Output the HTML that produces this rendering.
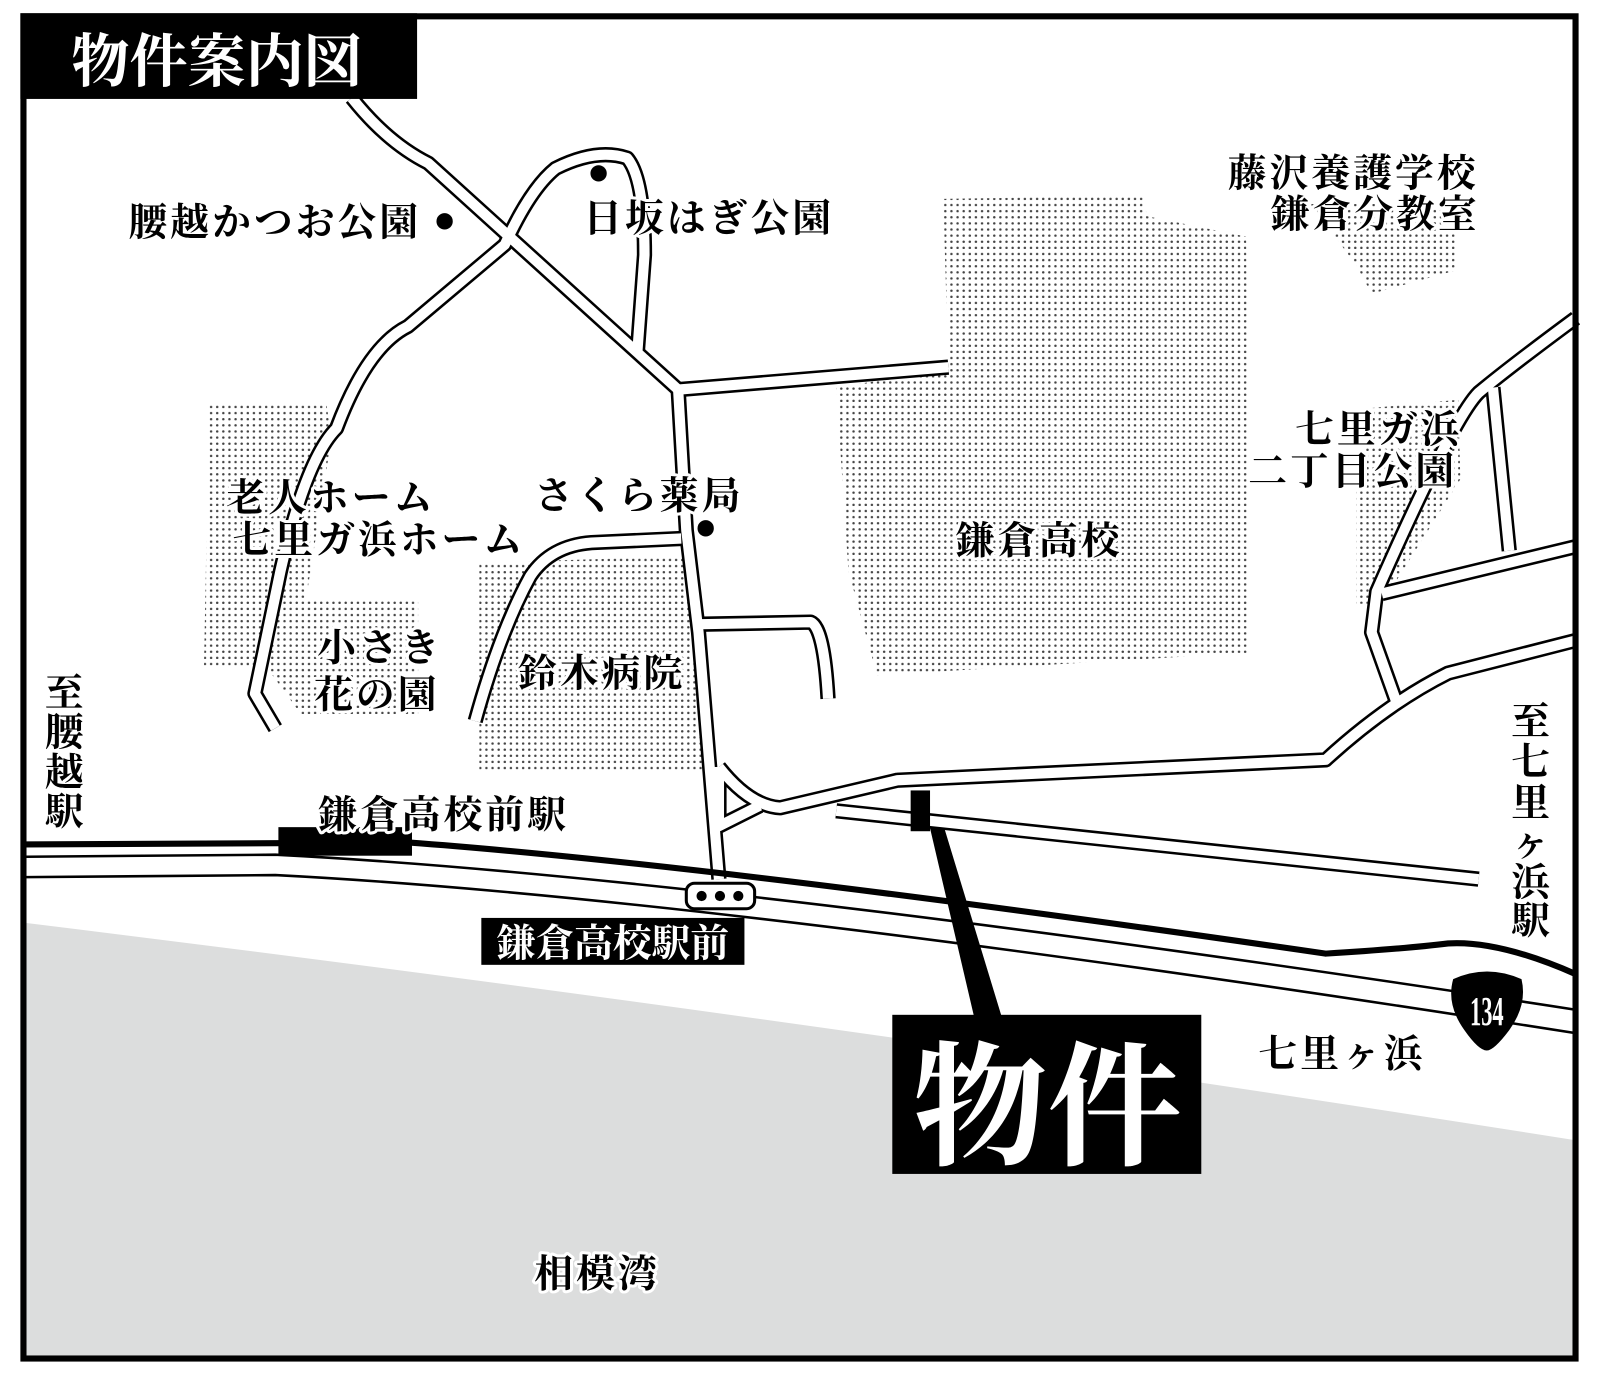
<!DOCTYPE html>
<html><head><meta charset="utf-8"><style>
html,body{margin:0;padding:0;background:#fff}
svg{display:block}
text{font-family:"Liberation Serif","Noto Serif CJK JP","Noto Serif CJK SC",serif;font-weight:bold}
.l{font-size:38px;letter-spacing:3px;fill:#000;stroke:#fff;stroke-width:6;paint-order:stroke;stroke-linejoin:round}
</style></head><body>
<svg width="1599" height="1383" viewBox="0 0 1568 1356" preserveAspectRatio="none" xmlns="http://www.w3.org/2000/svg">
<defs>
<pattern id="d" width="6" height="6" patternUnits="userSpaceOnUse"><circle cx="3" cy="3" r="1.2" fill="#444"/></pattern>
</defs>
<rect width="1568" height="1356" fill="#fff"/>
<path d="M26 905 Q800 1000 1545 1118 L1545 1330 L26 1330 Z" fill="#dcdddd"/>
<g fill="url(#d)">
<path d="M820 380 L930 362 L925 195 L1120 192 L1125 212 L1222 232 L1225 640 L860 662 L832 560 Z"/>
<path d="M1285 200 L1425 200 L1428 265 L1345 288 L1330 260 Z"/>
<path d="M1345 400 L1430 392 L1432 470 L1355 592 L1330 592 L1330 480 Z"/>
<path d="M205 395 L320 395 L325 430 L300 588 L410 588 L410 700 L295 700 L262 655 L200 655 Z"/>
<path d="M470 552 L685 545 L692 757 L470 757 Z"/>
</g>
<g fill="none" stroke="#000" stroke-width="2.5">
<path d="M26 840 L270 838 Q700 860 1545 990"/>
<path d="M26 860 L270 858 Q700 880 1545 1013"/>
</g>
<g fill="none" stroke-linecap="butt" stroke-linejoin="round">
<g stroke="#000" stroke-width="15">
<path d="M345 96 Q380 140 420 160 L665 382"/>
<path d="M665 382 L673 520 L685 620 L705 862"/>
<path d="M665 382 L930 360"/>
<path d="M270 714 L250 680 L275 560 Q300 450 330 420 Q360 340 400 320 L495 240 Q520 185 545 165 Q585 145 615 155 Q632 175 632 250 L625 345"/>
<path d="M466 707 Q490 620 520 565 Q540 535 580 532 L668 528"/>
<path d="M688 612 L795 610 Q808 615 812 685"/>
<path d="M705 752 Q735 790 765 792 L880 765 L1300 745 Q1360 690 1420 660 L1545 628"/>
<path d="M705 752 L705 810 L745 790"/>
<path d="M820 795 L1450 862"/>
<path d="M1545 312 Q1480 360 1450 385 Q1425 410 1350 580 L1345 620 L1370 690"/>
<path d="M1464 380 L1480 540"/>
<path d="M1355 582 L1545 536"/>
</g>
<g stroke="#fff" stroke-width="10">
<path d="M345 96 Q380 140 420 160 L665 382"/>
<path d="M665 382 L673 520 L685 620 L705 862"/>
<path d="M665 382 L930 360"/>
<path d="M270 714 L250 680 L275 560 Q300 450 330 420 Q360 340 400 320 L495 240 Q520 185 545 165 Q585 145 615 155 Q632 175 632 250 L625 345"/>
<path d="M466 707 Q490 620 520 565 Q540 535 580 532 L668 528"/>
<path d="M688 612 L795 610 Q808 615 812 685"/>
<path d="M705 752 Q735 790 765 792 L880 765 L1300 745 Q1360 690 1420 660 L1545 628"/>
<path d="M705 752 L705 810 L745 790"/>
<path d="M820 795 L1450 862"/>
<path d="M1545 312 Q1480 360 1450 385 Q1425 410 1350 580 L1345 620 L1370 690"/>
<path d="M1464 380 L1480 540"/>
<path d="M1355 582 L1545 536"/>
</g>
</g>
<path d="M23 828 L400 826 Q700 848 1300 935 Q1380 930 1420 925 Q1470 922 1545 955" fill="none" stroke="#000" stroke-width="6"/>
<rect x="273" y="811" width="131" height="28" fill="#000"/>
<rect x="673" y="866" width="67" height="25" rx="8" fill="#fff" stroke="#000" stroke-width="3"/>
<circle cx="688" cy="878.5" r="5" fill="#000"/><circle cx="706" cy="878.5" r="5" fill="#000"/><circle cx="724" cy="878.5" r="5" fill="#000"/>
<rect x="472" y="900" width="258" height="46" fill="#000"/>
<text x="601" y="938" font-size="38" fill="#fff" text-anchor="middle">鎌倉高校駅前</text>
<path d="M1425 960 Q1458 945 1492 960 Q1498 985 1480 1010 Q1465 1030 1458 1030 Q1450 1030 1436 1010 Q1418 985 1425 960 Z" fill="#000"/>
<text x="1458" y="1005" font-size="40" font-weight="normal" fill="#fff" text-anchor="middle" transform="translate(1458 0) scale(0.55 1) translate(-1458 0)">134</text>
<circle cx="436" cy="217" r="8"/><circle cx="587" cy="170" r="8"/><circle cx="692" cy="518" r="8"/>
<rect x="893" y="775" width="19" height="40" fill="#000"/>
<polygon points="912,812 926,812 982,996 955,996" fill="#000"/>
<rect x="875" y="995" width="303" height="156" fill="#000"/>
<text x="1027" y="1132" font-size="132" fill="#fff" text-anchor="middle">物件</text>
<g class="l">
<text x="126" y="231">腰越かつお公園</text>
<text x="572" y="227">日坂はぎ公園</text>
<text x="1204" y="183">藤沢養護学校</text>
<text x="1246" y="223">鎌倉分教室</text>
<text x="1270" y="434">七里ガ浜</text>
<text x="1224" y="475">二丁目公園</text>
<text x="937" y="543">鎌倉高校</text>
<text x="524" y="499">さくら薬局</text>
<text x="222" y="501">老人ホーム</text>
<text x="228" y="542">七里ガ浜ホーム</text>
<text x="311" y="648">小さき</text>
<text x="308" y="694">花の園</text>
<text x="508" y="673">鈴木病院</text>
<text x="312" y="812">鎌倉高校前駅</text>
<text x="1234" y="1046">七里ヶ浜</text>
<text x="524" y="1262">相模湾</text>
<text x="44" y="692">至</text><text x="44" y="731">腰</text><text x="44" y="770">越</text><text x="44" y="809">駅</text>
<text x="1482" y="720">至</text><text x="1482" y="760">七</text><text x="1482" y="800">里</text><text x="1482" y="840">ヶ</text><text x="1482" y="878">浜</text><text x="1482" y="916">駅</text>
</g>
<rect x="23" y="16" width="1522" height="1316" fill="none" stroke="#000" stroke-width="6"/>
<rect x="20" y="13" width="389" height="84" fill="#000"/>
<text x="70" y="80" font-size="57" fill="#fff">物件案内図</text>
</svg>
</body></html>
